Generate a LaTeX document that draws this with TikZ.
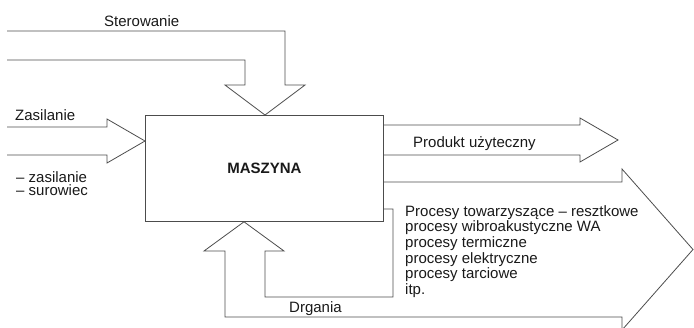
\documentclass[tikz,border=0pt]{standalone}
\usepackage{fontspec}
\setmainfont{Liberation Sans}
\begin{document}
\begin{tikzpicture}[x=1pt,y=-1pt,
  outl/.style={draw=black!70, line width=0.8pt, line join=miter},
  lbl/.style={font=\fontsize{15}{15.7}\selectfont, inner sep=0pt, text=black!90, align=left}]
\useasboundingbox (0,0) rectangle (694,327);
\clip (0,0) rectangle (694,327);
% main block
\node[outl, minimum width=238pt, minimum height=106pt, inner sep=0pt, anchor=north west,
      font=\bfseries\fontsize{15}{15}\selectfont, text=black!90] (box) at (145,115) {MASZYNA};
% free ends of the block arrows
\coordinate (stIn) at (7,31);
\coordinate (zaIn) at (7,127);
\coordinate (prEnd) at (618,140);
\coordinate (bigTip) at (693,249.5);
% Sterowanie arrow
\draw[outl] (stIn) -- (285,31) -- (285,85) -- (305,85) -- (box.north -| 265,0)
  -- (225,85) -- (245,85) -- (245,60) -- (7,60);
% Zasilanie arrow
\draw[outl] (zaIn) -- (107,127) -- (107,119) -- (box.west |- 0,141)
  -- (107,163) -- (107,155) -- (7,155);
% Produkt arrow
\draw[outl] (box.east |- 0,125) -- (580,125) -- (580,118) -- (prEnd)
  -- (580,162) -- (580,155) -- (box.east |- 0,155);
% Procesy / Drgania arrow
\draw[outl] (box.east |- 0,182) -- (622,182) -- (622,169) -- (bigTip)
  -- (622,330) -- (622,317) -- (225,317) -- (225,251) -- (204,251)
  -- (box.south -| 244,0) -- (284,251) -- (265,251) -- (265,297)
  -- (393,297) -- (393,209) -- (box.east |- 0,209);
% labels
\node[lbl, anchor=base west] (ster) at (104,26) {Sterowanie};
\node[lbl, anchor=base west] (zas) at (15,120) {Zasilanie};
\node[lbl, anchor=base west] (zs1) at (16,182) {– zasilanie};
\node[lbl, anchor=base west] (zs2) at (16,195.5) {– surowiec};
\node[lbl, anchor=base west] (prod) at (413,147) {Produkt użyteczny};
\node[lbl, anchor=base west] (proc) at (405,294.5) {Procesy towarzyszące – resztkowe\\procesy wibroakustyczne WA\\procesy termiczne\\procesy elektryczne\\procesy tarciowe\\itp.};
\node[lbl, anchor=base west] (drg) at (289,312) {Drgania};
\end{tikzpicture}
\end{document}
